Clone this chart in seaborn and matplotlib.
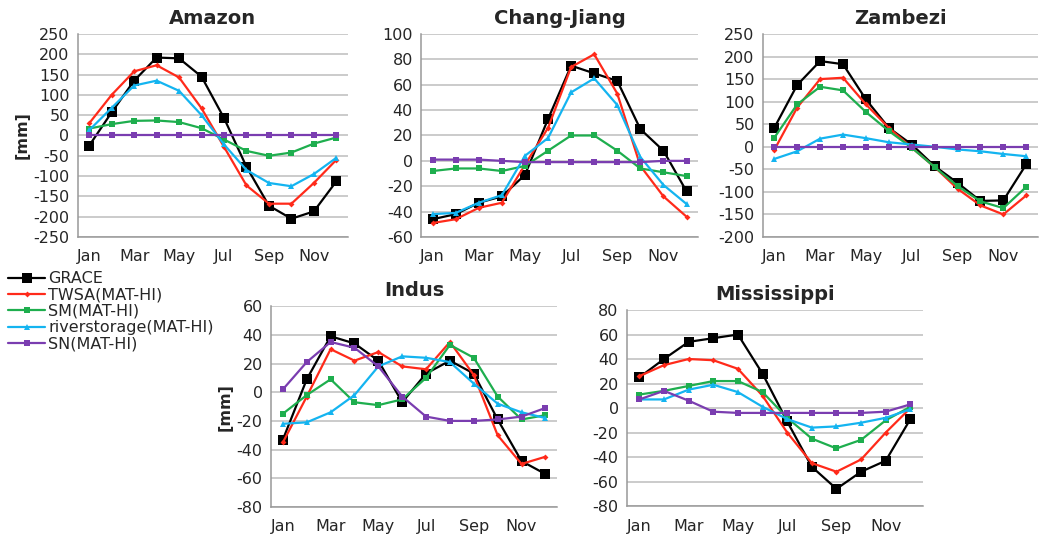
import numpy as np
import pandas as pd
import seaborn as sns
import matplotlib
matplotlib.use("Agg")
import matplotlib.pyplot as plt
from matplotlib.lines import Line2D

# month categories
months = ["Jan", "Feb", "Mar", "Apr", "May", "Jun", "Jul", "Aug", "Sep", "Oct", "Nov", "Dec"]
series_names = ["GRACE", "TWSA(MAT-HI)", "SM(MAT-HI)", "riverstorage(MAT-HI)", "SN(MAT-HI)"]

# Amazon [mm]
amazon_grace = [-25, 57, 135, 192, 190, 145, 43, -77, -173, -205, -187, -113]
amazon_twsa = [30, 100, 158, 173, 143, 67, -28, -123, -168, -168, -117, -60]
amazon_sm = [17, 28, 36, 37, 33, 18, -10, -38, -50, -42, -20, -5]
amazon_river = [13, 68, 123, 135, 110, 50, -22, -85, -117, -125, -95, -55]
amazon_sn = [0, 0, 0, 0, 0, 0, 0, 0, 0, 0, 0, 0]

# Chang-Jiang [mm]
chang_grace = [-46, -42, -33, -28, -11, 33, 75, 69, 63, 25, 8, -24]
chang_twsa = [-49, -46, -37, -33, -3, 26, 74, 84, 53, -4, -28, -44]
chang_sm = [-8, -6, -6, -8, -4, 8, 20, 20, 8, -6, -9, -12]
chang_river = [-42, -41, -33, -27, 4, 18, 54, 65, 44, 3, -19, -34]
chang_sn = [1, 1, 1, 0, -1, -1, -1, -1, -1, -1, 0, 0]

# Zambezi [mm]
zambezi_grace = [42, 137, 190, 183, 105, 42, 5, -43, -80, -120, -119, -39]
zambezi_twsa = [-7, 87, 150, 153, 94, 42, -2, -45, -93, -130, -150, -108]
zambezi_sm = [20, 94, 133, 125, 77, 35, -2, -45, -87, -121, -136, -89]
zambezi_river = [-27, -10, 18, 27, 19, 10, 5, 0, -6, -10, -16, -21]
zambezi_sn = [0, 0, 0, 0, 0, 0, 0, 0, 0, 0, 0, 0]

# Indus [mm]
indus_grace = [-33, 9, 39, 34, 22, -7, 13, 22, 13, -19, -48, -57]
indus_twsa = [-35, -3, 30, 22, 28, 18, 16, 35, 12, -30, -50, -45]
indus_sm = [-15, -2, 9, -7, -9, -5, 10, 33, 24, -3, -19, -16]
indus_river = [-22, -21, -14, -2, 18, 25, 24, 21, 6, -8, -14, -18]
indus_sn = [2, 21, 35, 31, 18, -3, -17, -20, -20, -19, -17, -11]

# Mississippi [mm]
miss_grace = [25, 40, 54, 57, 60, 28, -11, -48, -66, -52, -43, -9]
miss_twsa = [26, 35, 40, 39, 32, 10, -20, -45, -52, -42, -20, 0]
miss_sm = [11, 14, 18, 22, 22, 13, -8, -25, -33, -26, -10, 1]
miss_river = [7, 7, 15, 19, 13, 1, -9, -16, -15, -12, -8, -1]
miss_sn = [7, 14, 6, -3, -4, -4, -4, -4, -4, -4, -3, 3]

colors = ["#000000", "#FF2A1A", "#1EAE4E", "#14B4F0", "#7A3DB0"]
markers = ["s", "D", "s", "^", "s"]
msizes = [7, 3, 5, 4.5, 5]

panels = [
    ("Amazon", [amazon_grace, amazon_twsa, amazon_sm, amazon_river, amazon_sn],
     (-250, 250, 50), [0.0746, 0.5587, 0.258, 0.378], True),
    ("Chang-Jiang", [chang_grace, chang_twsa, chang_sm, chang_river, chang_sn],
     (-60, 100, 20), [0.403, 0.5587, 0.265, 0.378], False),
    ("Zambezi", [zambezi_grace, zambezi_twsa, zambezi_sm, zambezi_river, zambezi_sn],
     (-200, 250, 50), [0.730, 0.5587, 0.263, 0.378], False),
    ("Indus", [indus_grace, indus_twsa, indus_sm, indus_river, indus_sn],
     (-80, 60, 20), [0.2593, 0.0559, 0.274, 0.374], True),
    ("Mississippi", [miss_grace, miss_twsa, miss_sm, miss_river, miss_sn],
     (-80, 80, 20), [0.600, 0.0577, 0.283, 0.365], False),
]

sns.set_style("white")
plt.rcParams["font.family"] = ["DejaVu Sans"]
plt.rcParams["axes.unicode_minus"] = False

fig = plt.figure(figsize=(10.45, 5.37), dpi=100)
x = np.arange(len(months))

for title, data, (lo, hi, step), rect, ylab in panels:
    ax = fig.add_axes(rect)
    for i, vals in enumerate(data):
        df = pd.DataFrame({"month": x, "value": vals})
        sns.lineplot(data=df, x="month", y="value", ax=ax, color=colors[i],
                     marker=markers[i], markersize=msizes[i], markeredgewidth=0,
                     linewidth=1.6, zorder=3 + i)
    ax.set_xlim(-0.5, 11.5)
    ax.set_ylim(lo, hi)
    ax.set_yticks(np.arange(lo, hi + 1, step))
    ax.set_xticks(x[::2])
    ax.set_xticklabels(months[::2])
    ax.set_xticks(np.arange(-0.5, 12, 1), minor=True)
    ax.tick_params(axis="x", which="major", length=0, labelsize=11.5, pad=9)
    ax.tick_params(axis="x", which="minor", length=4, color="#888888", direction="out")
    ax.tick_params(axis="y", length=4, color="#888888", labelsize=11.5, direction="out", pad=2)
    ax.yaxis.grid(True, color="#BDBDBD", linewidth=1.1)
    ax.xaxis.grid(False)
    ax.set_axisbelow(True)
    for s in ["top", "right"]:
        ax.spines[s].set_visible(False)
    for s in ["left", "bottom"]:
        ax.spines[s].set_color("#999999")
        ax.spines[s].set_linewidth(1.1)
    ax.set_xlabel("")
    ax.set_ylabel("[mm]" if ylab else "", fontsize=11.5, fontweight="bold", labelpad=3)
    ax.set_title(title, fontsize=14, fontweight="bold", pad=7)

handles = [Line2D([], [], color=colors[i], marker=markers[i], markersize=msizes[i],
                  markeredgewidth=0, linewidth=1.6) for i in range(5)]
fig.legend(handles, series_names, loc="upper left", bbox_to_anchor=(0.002, 1 - 265 / 537),
           frameon=False, fontsize=11.5, handlelength=2.3, handletextpad=0.2,
           labelspacing=0.08, borderaxespad=0)

fig.savefig("out.png", dpi=100)
